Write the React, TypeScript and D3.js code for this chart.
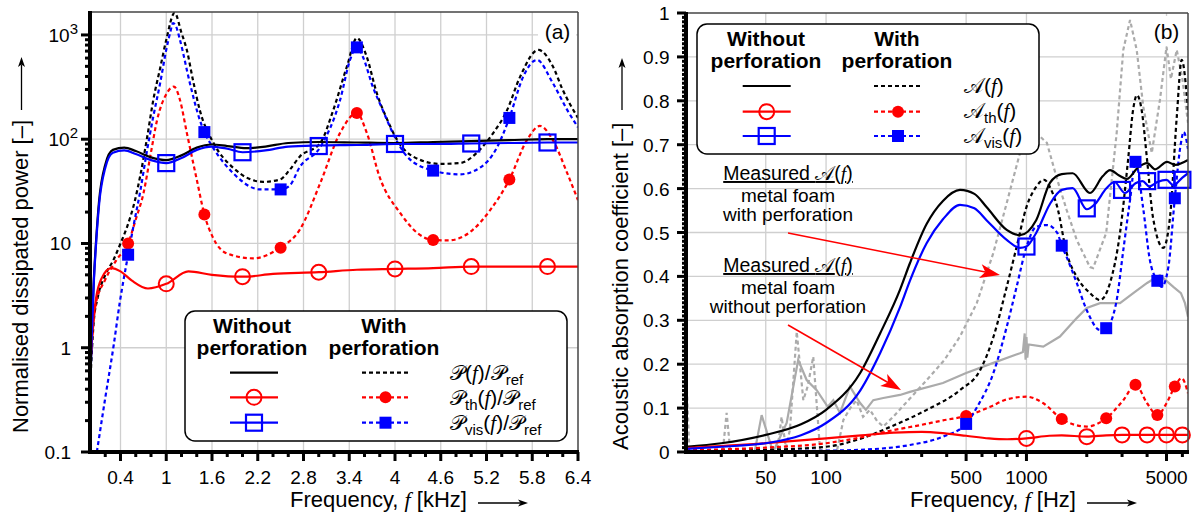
import React from "react";
import * as d3 from "d3";

type Pt = [number, number];

// ---------------- Panel (a): frequency [kHz] -> normalised dissipated power ----------------
const powerTotalWithout: Pt[] = [[0, 0.32], [0.02, 1.2], [0.05, 4.5], [0.08, 10.7], [0.12, 26], [0.2, 57], [0.3, 79], [0.45, 83], [0.6, 77], [0.8, 67], [1.0, 63], [1.2, 70], [1.4, 83], [1.6, 89], [1.8, 86], [2.05, 82], [2.3, 85], [2.6, 92], [3.0, 94], [3.5, 93], [4.0, 92], [4.5, 94], [5.0, 96], [5.5, 98], [6.0, 100], [6.4, 100]];
const powerVisWithout: Pt[] = [[0, 0.34], [0.02, 1.1], [0.05, 4.2], [0.08, 10], [0.12, 24], [0.2, 53], [0.3, 74], [0.45, 78], [0.6, 72], [0.8, 63], [1.0, 59], [1.2, 66], [1.4, 79], [1.6, 85], [1.8, 81], [2.0, 75], [2.3, 78], [2.6, 85], [3.0, 87], [3.5, 88], [4.0, 90], [4.5, 90], [5.0, 91], [5.5, 92], [6.0, 93], [6.4, 93]];
const powerThWithout: Pt[] = [[0, 0.6], [0.04, 1.7], [0.08, 3.0], [0.15, 4.6], [0.28, 5.8], [0.4, 5.4], [0.55, 4.4], [0.76, 3.7], [1.0, 4.1], [1.29, 5.4], [1.6, 5.0], [2.0, 4.8], [2.4, 5.1], [3.0, 5.3], [3.5, 5.6], [4.0, 5.7], [4.5, 5.8], [5.0, 6.0], [5.5, 6.0], [6.0, 6.0], [6.4, 6.0]];
const powerTotalWith: Pt[] = [[0, 0.4], [0.05, 1.8], [0.1, 3.0], [0.2, 5.0], [0.31, 7], [0.4, 10], [0.48, 14], [0.59, 26], [0.66, 45], [0.75, 105], [0.83, 238], [0.92, 480], [1.0, 895], [1.11, 1630], [1.2, 1045], [1.27, 718], [1.35, 370], [1.44, 190], [1.62, 92], [1.88, 53], [2.27, 39], [2.49, 41], [2.62, 51], [2.75, 68], [3.02, 92], [3.19, 190], [3.37, 500], [3.5, 936], [3.63, 615], [3.76, 278], [3.9, 153], [4.03, 98], [4.24, 68], [4.59, 58], [4.85, 59], [5.11, 79], [5.29, 115], [5.47, 190], [5.64, 396], [5.88, 718], [6.07, 500], [6.2, 297], [6.4, 160]];
const powerVisWith: Pt[] = [[0.09, 0.1], [0.2, 0.33], [0.31, 1.05], [0.39, 2.7], [0.5, 7.8], [0.58, 16], [0.66, 32], [0.74, 72], [0.83, 165], [0.92, 345], [1.0, 720], [1.05, 1040], [1.09, 1300], [1.13, 1200], [1.18, 895], [1.31, 345], [1.44, 153], [1.5, 117], [1.61, 84], [1.88, 47], [2.23, 33], [2.5, 33], [2.62, 36], [2.75, 54], [3.02, 84], [3.28, 238], [3.41, 575], [3.5, 780], [3.58, 615], [3.71, 317], [3.84, 190], [3.97, 115], [4.16, 68], [4.5, 50], [4.85, 46], [5.11, 53], [5.34, 84], [5.5, 160], [5.68, 396], [5.86, 575], [6.07, 345], [6.26, 190], [6.4, 130]];
const powerThWith: Pt[] = [[0, 0.6], [0.07, 2.5], [0.2, 4.5], [0.35, 7.0], [0.5, 10], [0.6, 17], [0.7, 30], [0.8, 75], [0.88, 153], [1.0, 270], [1.1, 320], [1.18, 238], [1.27, 115], [1.4, 41], [1.5, 19], [1.61, 11.5], [1.8, 8], [2.14, 7.2], [2.49, 9.1], [2.75, 13.5], [3.02, 38], [3.28, 115], [3.5, 178], [3.63, 115], [3.8, 43], [4.07, 19.5], [4.3, 12.5], [4.5, 10.8], [4.7, 10.7], [5.02, 13.5], [5.25, 21], [5.5, 41], [5.73, 98], [5.9, 134], [6.07, 98], [6.26, 47], [6.4, 26]];
const powerThWithoutMarkers: Pt[] = [[1, 4.1], [2, 4.8], [3, 5.3], [4, 5.7], [5, 6.0], [6, 6.0]];
const powerVisWithoutMarkers: Pt[] = [[1, 59], [2, 75], [3, 86], [4, 90], [5, 91], [6, 93]];
const powerThWithMarkers: Pt[] = [[0.5, 10], [1.5, 19], [2.5, 9.1], [3.5, 178], [4.5, 10.8], [5.5, 41]];
const powerVisWithMarkers: Pt[] = [[0.5, 7.8], [1.5, 117], [2.5, 33], [3.5, 760], [4.5, 50], [5.5, 160]];
const xTicksA = [0.4, 1, 1.6, 2.2, 2.8, 3.4, 4, 4.6, 5.2, 5.8, 6.4];
const yTicksA = [0.1, 1, 10, 100, 1000];
const yTickBaseA = ["0.1", "1", "10", "10", "10"];
const yTickSupA = ["", "", "", "2", "3"];

// ---------------- Panel (b): frequency [Hz] -> absorption coefficient ----------------
const absTotalWithout: Pt[] = [[20, 0.012], [30, 0.02], [50, 0.039], [75, 0.063], [100, 0.096], [148, 0.18], [186, 0.27], [234, 0.37], [262, 0.43], [318, 0.52], [383, 0.572], [466, 0.597], [550, 0.588], [632, 0.558], [797, 0.506], [928, 0.494], [1118, 0.528], [1310, 0.613], [1500, 0.633], [1700, 0.635], [2075, 0.59], [2400, 0.628], [2612, 0.642], [2900, 0.63], [3170, 0.622], [3600, 0.648], [4000, 0.658], [4390, 0.644], [5030, 0.661], [5520, 0.654], [6400, 0.665]];
const absVisWithout: Pt[] = [[20, 0.007], [30, 0.012], [50, 0.02], [75, 0.038], [100, 0.066], [148, 0.14], [186, 0.225], [234, 0.33], [262, 0.39], [318, 0.476], [383, 0.53], [466, 0.563], [550, 0.555], [632, 0.528], [797, 0.483], [928, 0.465], [1000, 0.468], [1118, 0.499], [1310, 0.565], [1500, 0.597], [1700, 0.601], [2000, 0.553], [2200, 0.565], [2500, 0.6], [2750, 0.615], [3100, 0.59], [3500, 0.612], [3800, 0.617], [4100, 0.605], [4500, 0.615], [5000, 0.62], [5400, 0.608], [6000, 0.625], [6400, 0.635]];
const absThWithout: Pt[] = [[20, 0.009], [50, 0.02], [100, 0.031], [150, 0.038], [218, 0.044], [300, 0.046], [400, 0.042], [500, 0.037], [650, 0.031], [800, 0.029], [1000, 0.031], [1300, 0.037], [1500, 0.038], [2000, 0.035], [2500, 0.038], [3000, 0.039], [4000, 0.039], [5000, 0.039], [6000, 0.039], [6400, 0.039]];
const absTotalWith: Pt[] = [[20, 0.002], [50, 0.005], [100, 0.012], [148, 0.03], [216, 0.06], [318, 0.096], [466, 0.141], [588, 0.187], [684, 0.262], [797, 0.376], [893, 0.467], [1000, 0.558], [1118, 0.604], [1225, 0.62], [1320, 0.6], [1425, 0.558], [1588, 0.453], [1782, 0.399], [2075, 0.362], [2329, 0.346], [2612, 0.385], [2930, 0.499], [3214, 0.665], [3405, 0.779], [3560, 0.813], [3757, 0.779], [4000, 0.665], [4278, 0.535], [4818, 0.465], [5204, 0.535], [5624, 0.763], [5952, 0.893], [6400, 0.779]];
const absVisWith: Pt[] = [[20, 0.001], [50, 0.002], [100, 0.003], [148, 0.005], [262, 0.016], [383, 0.035], [500, 0.064], [568, 0.103], [684, 0.18], [797, 0.285], [893, 0.376], [1000, 0.467], [1118, 0.513], [1265, 0.517], [1425, 0.499], [1500, 0.47], [1588, 0.444], [1782, 0.385], [2000, 0.323], [2329, 0.278], [2500, 0.282], [2820, 0.346], [3043, 0.46], [3288, 0.574], [3500, 0.661], [3817, 0.558], [4130, 0.437], [4500, 0.39], [4730, 0.376], [5106, 0.421], [5500, 0.578], [5900, 0.704], [6090, 0.729], [6400, 0.69]];
const absThWith: Pt[] = [[20, 0.004], [50, 0.01], [100, 0.02], [148, 0.033], [218, 0.05], [300, 0.062], [383, 0.072], [500, 0.082], [660, 0.103], [800, 0.12], [1000, 0.126], [1215, 0.111], [1500, 0.075], [2000, 0.058], [2500, 0.077], [3043, 0.118], [3500, 0.153], [4000, 0.111], [4500, 0.084], [5000, 0.111], [5500, 0.149], [5950, 0.168], [6400, 0.134]];
const measuredWithout: Pt[] = [[44, 0.0], [47.7, 0.084], [54.4, 0.0], [63.6, 0.066], [72.6, 0.21], [80, 0.164], [89.8, 0.141], [101.9, 0.103], [108.7, 0.118], [117.3, 0.089], [131.6, 0.149], [147.6, 0.112], [158, 0.096], [172, 0.118], [193, 0.123], [234, 0.13], [262, 0.137], [383, 0.157], [500, 0.18], [683, 0.203], [928, 0.225], [960, 0.228], [980, 0.27], [990, 0.21], [1000, 0.262], [1010, 0.215], [1025, 0.245], [1213, 0.24], [1469, 0.263], [1782, 0.305], [2000, 0.328], [2329, 0.339], [2930, 0.339], [3413, 0.362], [4000, 0.385], [4636, 0.403], [5406, 0.376], [5900, 0.362], [6180, 0.339], [6400, 0.308]];
const measuredWith: Pt[] = [[20, 0.19], [20.8, 0.0], [30.5, 0.0], [31.9, 0.089], [33.3, 0.0], [57, 0.0], [60, 0.08], [63, 0.01], [66, 0.05], [71.4, 0.274], [77, 0.118], [81, 0.15], [86.3, 0.217], [93.3, 0.005], [113, 0.0], [122, 0.073], [132, 0.1], [142, 0.118], [153, 0.08], [165.6, 0.096], [180, 0.07], [193, 0.058], [216, 0.08], [260, 0.12], [318, 0.164], [390, 0.21], [466, 0.263], [565, 0.339], [683, 0.453], [797, 0.567], [928, 0.681], [1000, 0.727], [1060, 0.7], [1118, 0.727], [1265, 0.704], [1425, 0.62], [1588, 0.551], [1782, 0.483], [2075, 0.421], [2150, 0.419], [2500, 0.499], [2820, 0.727], [3043, 0.916], [3288, 0.984], [3550, 0.916], [3830, 0.786], [4220, 0.681], [4636, 0.802], [5000, 0.923], [5260, 0.85], [5624, 0.916], [6000, 0.85], [6400, 0.75]];
const absThWithoutMarkers: Pt[] = [[1000, 0.031], [2000, 0.035], [3000, 0.039], [4000, 0.039], [5000, 0.039], [6000, 0.039]];
const absVisWithoutMarkers: Pt[] = [[1000, 0.468], [2000, 0.555], [3000, 0.597], [4000, 0.617], [5000, 0.62], [6000, 0.62]];
const absThWithMarkers: Pt[] = [[500, 0.082], [1500, 0.075], [2500, 0.077], [3500, 0.153], [4500, 0.084], [5500, 0.149]];
const absVisWithMarkers: Pt[] = [[500, 0.064], [1500, 0.47], [2500, 0.282], [3500, 0.661], [4500, 0.39], [5500, 0.578]];
const xTicksB = [50, 100, 500, 1000, 5000];
const xMinorB = [30, 40, 60, 70, 80, 90, 200, 300, 400, 600, 700, 800, 900, 2000, 3000, 4000, 6000];
const yTicksB = [0, 0.1, 0.2, 0.3, 0.4, 0.5, 0.6, 0.7, 0.8, 0.9, 1];

const FONT = "'Liberation Sans', Arial, Helvetica, sans-serif";
const SCRIPT = "'DejaVu Sans', 'Noto Sans', serif";
const IT = "'Liberation Serif', 'DejaVu Serif', serif";
const RED = "#ff0000";
const BLUE = "#0000ff";
const GRAY = "#ababab";
const GRID = "#cfcfcf";
const DASH = "4,3";
const P = "\u{1D4AB}";
const A = "\u{1D49C}";

function OpenCircle({ x, y }: { x: number; y: number }) {
  return <circle cx={x} cy={y} r={7.5} fill="none" stroke={RED} strokeWidth={2} />;
}
function OpenSquare({ x, y }: { x: number; y: number }) {
  return <rect x={x - 8} y={y - 8} width={16} height={16} fill="none" stroke={BLUE} strokeWidth={2.2} />;
}
function DotCircle({ x, y }: { x: number; y: number }) {
  return <circle cx={x} cy={y} r={6} fill={RED} />;
}
function DotSquare({ x, y }: { x: number; y: number }) {
  return <rect x={x - 6} y={y - 6} width={12} height={12} fill={BLUE} />;
}

function Arrow({ x1, y1, x2, y2, color, w, head, hw }: { x1: number; y1: number; x2: number; y2: number; color: string; w: number; head: number; hw: number }) {
  const ang = Math.atan2(y2 - y1, x2 - x1);
  const c = Math.cos(ang), s = Math.sin(ang);
  const bx = x2 - head * c, by = y2 - head * s;
  const nx = x2 - head * 0.75 * c, ny = y2 - head * 0.75 * s;
  const p = `M${x2},${y2} L${bx - hw * s},${by + hw * c} L${nx},${ny} L${bx + hw * s},${by - hw * c} Z`;
  return (
    <g>
      <line x1={x1} y1={y1} x2={nx} y2={ny} stroke={color} strokeWidth={w} />
      <path d={p} fill={color} />
    </g>
  );
}

function Sub({ children }: { children: React.ReactNode }) {
  return <tspan fontSize={15} dy={5}>{children}</tspan>;
}

export default function App() {
  const W = 1199, H = 518;
  const ax = d3.scaleLinear().domain([0, 6.4]).range([90, 578]);
  const ay = d3.scaleLog().domain([0.1, 1660]).range([452, 12]);
  const bx = d3.scaleLog().domain([20, 6400]).range([686, 1188]);
  const by = d3.scaleLinear().domain([0, 1]).range([452, 13]);

  const lineA = d3.line<Pt>().x(d => ax(d[0])).y(d => ay(d[1])).curve(d3.curveMonotoneX);
  const lineB = d3.line<Pt>().x(d => bx(d[0])).y(d => by(d[1])).curve(d3.curveMonotoneX);
  const lineBraw = d3.line<Pt>().x(d => bx(d[0])).y(d => by(d[1])).curve(d3.curveLinear);

  const minorXA = d3.range(1, 32).filter(i => i % 3 !== 2).map(i => i * 0.2);
  const minorYA: number[] = [];
  [0.1, 1, 10, 100, 1000].forEach(dec => { for (let k = 2; k <= 9; k++) { if (dec * k <= 1660) minorYA.push(dec * k); } });
  const minorYB = d3.range(1, 100).filter(i => i % 10 !== 0).map(i => i / 100);

  return (
    <div style={{ position: "absolute", left: 0, top: 0 }}>
      <svg width={W} height={H} style={{ display: "block", background: "#fff" }} fontFamily={FONT}>
        <defs>
          <clipPath id="clipA"><rect x={90} y={12} width={488} height={440} /></clipPath>
          <clipPath id="clipB"><rect x={686} y={13} width={502} height={439} /></clipPath>
        </defs>
        <rect x={0} y={0} width={W} height={H} fill="#fff" />

        {/* ===== Panel (a) ===== */}
        <g>
          {xTicksA.slice(0, -1).map(t => <line key={"gxa" + t} x1={ax(t)} x2={ax(t)} y1={12} y2={452} stroke={GRID} strokeWidth={1.3} />)}
          {yTicksA.slice(1).map(t => <line key={"gya" + t} x1={90} x2={578} y1={ay(t)} y2={ay(t)} stroke={GRID} strokeWidth={1.3} />)}
          <rect x={538} y={16} width={38} height={30} fill="#fff" />
          <text x={557.5} y={39} fontSize={21} textAnchor="middle">(a)</text>
          <g clipPath="url(#clipA)" fill="none" strokeWidth={2.2}>
            <path d={lineA(powerTotalWith) || ""} stroke="#000" strokeDasharray={DASH} />
            <path d={lineA(powerThWith) || ""} stroke={RED} strokeDasharray={DASH} />
            <path d={lineA(powerVisWith) || ""} stroke={BLUE} strokeDasharray={DASH} />
            <path d={lineA(powerTotalWithout) || ""} stroke="#000" />
            <path d={lineA(powerThWithout) || ""} stroke={RED} />
            <path d={lineA(powerVisWithout) || ""} stroke={BLUE} />
          </g>
          {powerThWithoutMarkers.map((d, i) => <OpenCircle key={"a1" + i} x={ax(d[0])} y={ay(d[1])} />)}
          {powerVisWithoutMarkers.map((d, i) => <OpenSquare key={"a2" + i} x={ax(d[0])} y={ay(d[1])} />)}
          {powerThWithMarkers.map((d, i) => <DotCircle key={"a3" + i} x={ax(d[0])} y={ay(d[1])} />)}
          {powerVisWithMarkers.map((d, i) => <DotSquare key={"a4" + i} x={ax(d[0])} y={ay(d[1])} />)}
          {/* frame */}
          <line x1={90} x2={578} y1={12} y2={12} stroke="#444" strokeWidth={1.5} />
          <line x1={578} x2={578} y1={12} y2={452} stroke="#444" strokeWidth={1.5} />
          {/* ticks */}
          {minorXA.map(t => <line key={"mxa" + t} x1={ax(t)} x2={ax(t)} y1={452} y2={457} stroke="#000" strokeWidth={3} />)}
          {xTicksA.map(t => <line key={"txa" + t} x1={ax(t)} x2={ax(t)} y1={452} y2={461} stroke="#000" strokeWidth={3} />)}
          {minorYA.map(t => <line key={"mya" + t} x1={85} x2={90} y1={ay(t)} y2={ay(t)} stroke="#000" strokeWidth={3} />)}
          {yTicksA.map(t => <line key={"tya" + t} x1={81} x2={90} y1={ay(t)} y2={ay(t)} stroke="#000" strokeWidth={3} />)}
          <line x1={90} x2={90} y1={11} y2={454} stroke="#000" strokeWidth={4} />
          <line x1={88} x2={579} y1={452} y2={452} stroke="#000" strokeWidth={4} />
          {xTicksA.map(t => <text key={"lxa" + t} x={ax(t)} y={484} fontSize={19} textAnchor="middle">{String(t)}</text>)}
          {yTicksA.map((t, i) => (
            <text key={"lya" + t} x={yTickSupA[i] ? 78 : 71} y={ay(t) + 7} fontSize={19} textAnchor="end">
              {yTickBaseA[i]}
              {yTickSupA[i] ? <tspan fontSize={15} dy={-8}>{yTickSupA[i]}</tspan> : null}
            </text>
          ))}
          <text x={290} y={507} fontSize={22}>Frequency, <tspan fontFamily={IT} fontStyle="italic">f</tspan> [kHz]</text>
          <Arrow x1={478} y1={503} x2={528} y2={503} color="#000" w={1.3} head={10} hw={3.5} />
          <text transform="translate(28,433) rotate(-90)" fontSize={22}>Normalised dissipated power [–]</text>
          <Arrow x1={21.5} y1={110} x2={21.5} y2={57} color="#000" w={1.3} head={10} hw={3.5} />

          {/* legend (a) */}
          <rect x={185} y={311} width={382} height={130} rx={10} fill="#fff" stroke="#000" strokeWidth={1.5} />
          <text x={252} y={333} fontSize={21} fontWeight="bold" textAnchor="middle">Without</text>
          <text x={252} y={355} fontSize={21} fontWeight="bold" textAnchor="middle">perforation</text>
          <text x={384} y={333} fontSize={21} fontWeight="bold" textAnchor="middle">With</text>
          <text x={384} y={355} fontSize={21} fontWeight="bold" textAnchor="middle">perforation</text>
          <line x1={230} x2={278} y1={372.7} y2={372.7} stroke="#000" strokeWidth={2.2} />
          <line x1={230} x2={278} y1={397.3} y2={397.3} stroke={RED} strokeWidth={2.2} />
          <OpenCircle x={254} y={397.3} />
          <line x1={230} x2={278} y1={422.7} y2={422.7} stroke={BLUE} strokeWidth={2.2} />
          <OpenSquare x={254} y={422.7} />
          <line x1={362} x2={409} y1={372.7} y2={372.7} stroke="#000" strokeWidth={2.2} strokeDasharray={DASH} />
          <line x1={362} x2={409} y1={397.3} y2={397.3} stroke={RED} strokeWidth={2.2} strokeDasharray={DASH} />
          <DotCircle x={385.5} y={397.3} />
          <line x1={362} x2={409} y1={422.7} y2={422.7} stroke={BLUE} strokeWidth={2.2} strokeDasharray={DASH} />
          <DotSquare x={385.5} y={422.7} />
          <text x={450} y={380} fontSize={21}>
            <tspan fontFamily={SCRIPT}>{P}</tspan>(<tspan fontFamily={IT} fontStyle="italic">f</tspan>)/<tspan fontFamily={SCRIPT}>{P}</tspan><Sub>ref</Sub>
          </text>
          <text x={450} y={405} fontSize={21}>
            <tspan fontFamily={SCRIPT}>{P}</tspan><Sub>th</Sub><tspan dy={-5}>(</tspan><tspan fontFamily={IT} fontStyle="italic">f</tspan>)/<tspan fontFamily={SCRIPT}>{P}</tspan><Sub>ref</Sub>
          </text>
          <text x={450} y={430} fontSize={21}>
            <tspan fontFamily={SCRIPT}>{P}</tspan><Sub>vis</Sub><tspan dy={-5}>(</tspan><tspan fontFamily={IT} fontStyle="italic">f</tspan>)/<tspan fontFamily={SCRIPT}>{P}</tspan><Sub>ref</Sub>
          </text>
        </g>

        {/* ===== Panel (b) ===== */}
        <g>
          {xTicksB.map(t => <line key={"gxb" + t} x1={bx(t)} x2={bx(t)} y1={13} y2={452} stroke={GRID} strokeWidth={1.3} />)}
          {yTicksB.slice(1, -1).map(t => <line key={"gyb" + t} x1={686} x2={1188} y1={by(t)} y2={by(t)} stroke={GRID} strokeWidth={1.3} />)}
          <rect x={1148} y={16} width={38} height={30} fill="#fff" />
          <text x={1166.5} y={39} fontSize={21} textAnchor="middle">(b)</text>
          <g clipPath="url(#clipB)" fill="none" strokeWidth={2.2}>
            <path d={lineBraw(measuredWith) || ""} stroke={GRAY} strokeDasharray={DASH} />
            <path d={lineBraw(measuredWithout) || ""} stroke={GRAY} />
            <path d={lineB(absTotalWith) || ""} stroke="#000" strokeDasharray={DASH} />
            <path d={lineB(absThWith) || ""} stroke={RED} strokeDasharray={DASH} />
            <path d={lineB(absVisWith) || ""} stroke={BLUE} strokeDasharray={DASH} />
            <path d={lineB(absTotalWithout) || ""} stroke="#000" />
            <path d={lineB(absThWithout) || ""} stroke={RED} />
            <path d={lineB(absVisWithout) || ""} stroke={BLUE} />
          </g>
          {absThWithoutMarkers.map((d, i) => <OpenCircle key={"b1" + i} x={bx(d[0])} y={by(d[1])} />)}
          {absVisWithoutMarkers.map((d, i) => <OpenSquare key={"b2" + i} x={bx(d[0])} y={by(d[1])} />)}
          {absThWithMarkers.map((d, i) => <DotCircle key={"b3" + i} x={bx(d[0])} y={by(d[1])} />)}
          {absVisWithMarkers.map((d, i) => <DotSquare key={"b4" + i} x={bx(d[0])} y={by(d[1])} />)}
          <line x1={686} x2={1188} y1={13} y2={13} stroke="#444" strokeWidth={1.5} />
          <line x1={1188} x2={1188} y1={13} y2={452} stroke="#444" strokeWidth={1.5} />
          {xMinorB.map(t => <line key={"mxb" + t} x1={bx(t)} x2={bx(t)} y1={452} y2={457} stroke="#000" strokeWidth={3} />)}
          {xTicksB.map(t => <line key={"txb" + t} x1={bx(t)} x2={bx(t)} y1={452} y2={461} stroke="#000" strokeWidth={3} />)}
          {minorYB.map(t => <line key={"myb" + t} x1={682} x2={686} y1={by(t)} y2={by(t)} stroke="#000" strokeWidth={3} />)}
          {yTicksB.map(t => <line key={"tyb" + t} x1={677} x2={686} y1={by(t)} y2={by(t)} stroke="#000" strokeWidth={3} />)}
          <line x1={686} x2={686} y1={12} y2={454} stroke="#000" strokeWidth={4} />
          <line x1={684} x2={1189} y1={452} y2={452} stroke="#000" strokeWidth={4} />
          {xTicksB.map(t => <text key={"lxb" + t} x={bx(t)} y={484} fontSize={19} textAnchor="middle">{String(t)}</text>)}
          {yTicksB.map(t => <text key={"lyb" + t} x={669.5} y={by(t) + 7} fontSize={19} textAnchor="end">{String(t)}</text>)}
          <text x={910} y={507} fontSize={22}>Frequency, <tspan fontFamily={IT} fontStyle="italic">f</tspan> [Hz]</text>
          <Arrow x1={1087} y1={503} x2={1137} y2={503} color="#000" w={1.3} head={10} hw={3.5} />
          <text transform="translate(628,450) rotate(-90)" fontSize={22}>Acoustic absorption coefficient [–]</text>
          <Arrow x1={622} y1={110} x2={622} y2={58} color="#000" w={1.3} head={10} hw={3.5} />

          {/* legend (b) */}
          <rect x={697} y={24} width={342} height={130} rx={10} fill="#fff" stroke="#000" strokeWidth={1.5} />
          <text x={766} y={46} fontSize={21} fontWeight="bold" textAnchor="middle">Without</text>
          <text x={766} y={68} fontSize={21} fontWeight="bold" textAnchor="middle">perforation</text>
          <text x={897} y={46} fontSize={21} fontWeight="bold" textAnchor="middle">With</text>
          <text x={897} y={68} fontSize={21} fontWeight="bold" textAnchor="middle">perforation</text>
          <line x1={742.7} x2={790.7} y1={86} y2={86} stroke="#000" strokeWidth={2.2} />
          <line x1={742.7} x2={790.7} y1={111.7} y2={111.7} stroke={RED} strokeWidth={2.2} />
          <OpenCircle x={766.7} y={111.7} />
          <line x1={742.7} x2={790.7} y1={136} y2={136} stroke={BLUE} strokeWidth={2.2} />
          <OpenSquare x={766.7} y={136} />
          <line x1={874} x2={921.7} y1={86} y2={86} stroke="#000" strokeWidth={2.2} strokeDasharray={DASH} />
          <line x1={874} x2={921.7} y1={111.7} y2={111.7} stroke={RED} strokeWidth={2.2} strokeDasharray={DASH} />
          <DotCircle x={898} y={111.7} />
          <line x1={874} x2={921.7} y1={136} y2={136} stroke={BLUE} strokeWidth={2.2} strokeDasharray={DASH} />
          <DotSquare x={898} y={136} />
          <text x={964} y={93} fontSize={21}>
            <tspan fontFamily={SCRIPT}>{A}</tspan>(<tspan fontFamily={IT} fontStyle="italic">f</tspan>)
          </text>
          <text x={964} y={118} fontSize={21}>
            <tspan fontFamily={SCRIPT}>{A}</tspan><Sub>th</Sub><tspan dy={-5}>(</tspan><tspan fontFamily={IT} fontStyle="italic">f</tspan>)
          </text>
          <text x={964} y={143} fontSize={21}>
            <tspan fontFamily={SCRIPT}>{A}</tspan><Sub>vis</Sub><tspan dy={-5}>(</tspan><tspan fontFamily={IT} fontStyle="italic">f</tspan>)
          </text>

          {/* annotations */}
          <text x={788} y={180} fontSize={19.5} textAnchor="middle" textDecoration="underline">
            Measured <tspan fontFamily={SCRIPT}>{A}</tspan>(<tspan fontFamily={IT} fontStyle="italic">f</tspan>)
          </text>
          <text x={788} y={202} fontSize={19} textAnchor="middle">metal foam</text>
          <text x={788} y={221} fontSize={19} textAnchor="middle">with perforation</text>
          <Arrow x1={788} y1={233} x2={1000} y2={275} color={RED} w={1.5} head={20} hw={7} />
          <text x={788} y={272} fontSize={19.5} textAnchor="middle" textDecoration="underline">
            Measured <tspan fontFamily={SCRIPT}>{A}</tspan>(<tspan fontFamily={IT} fontStyle="italic">f</tspan>)
          </text>
          <text x={788} y={294} fontSize={19} textAnchor="middle">metal foam</text>
          <text x={788} y={313} fontSize={19} textAnchor="middle">without perforation</text>
          <Arrow x1={788} y1={325} x2={901} y2={390} color={RED} w={1.5} head={20} hw={7} />
        </g>
      </svg>
    </div>
  );
}
